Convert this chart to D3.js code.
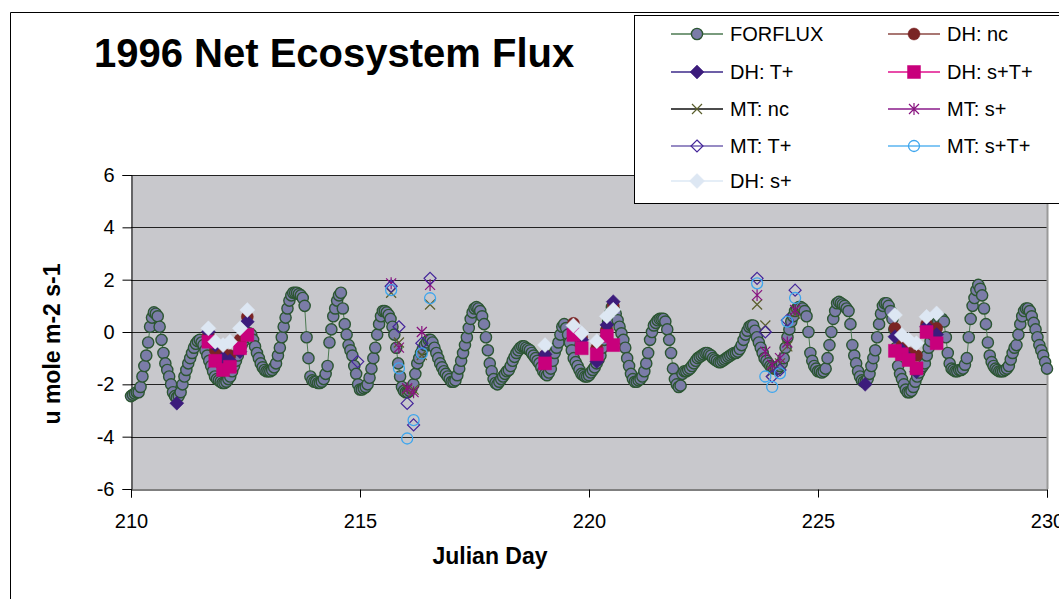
<!DOCTYPE html>
<html>
<head>
<meta charset="utf-8">
<script src="https://cdn.jsdelivr.net/npm/d3@7"></script>
<style>
body { margin: 0; background: #fff; }
svg { display: block; font-family: "Liberation Sans", Arial, sans-serif; }
</style>
</head>
<body>
<svg width="1059" height="599"></svg>
<script>
// FORFLUX, one row per Julian day, hourly readings
const fluxDays = [210, 211, 212, 213, 214, 215, 216, 217, 218, 219,
                  220, 221, 222, 223, 224, 225, 226, 227, 228, 229];
const hours = [0, 1, 2, 3, 4, 5, 6, 7, 8, 9, 10, 11, 12, 13, 14, 15, 16, 17, 18, 19, 20, 21, 22, 23];
const fluxRows = [
  [-2.45, -2.4, -2.35, -2.3, -2.3, -2.1, -1.7, -1.3, -0.9, -0.4, 0.2, 0.55, 0.75, 0.7, 0.6, 0.2, -0.3, -0.8, -1.2, -1.45, -1.7, -2.0, -2.3, -2.45],
  [-2.5, -2.45, -2.3, -2.0, -1.7, -1.45, -1.2, -1.0, -0.8, -0.6, -0.45, -0.35, -0.3, -0.4, -0.5, -0.7, -0.9, -1.1, -1.3, -1.5, -1.7, -1.8, -1.85, -1.9],
  [-1.95, -1.95, -1.9, -1.8, -1.7, -1.5, -1.3, -1.1, -0.9, -0.7, -0.5, -0.35, -0.2, -0.1, -0.05, -0.1, -0.3, -0.55, -0.8, -1.0, -1.2, -1.35, -1.45, -1.5],
  [-1.5, -1.5, -1.45, -1.35, -1.2, -0.9, -0.6, -0.2, 0.2, 0.55, 0.9, 1.2, 1.4, 1.5, 1.5, 1.5, 1.45, 1.4, 1.3, 1.0, -0.2, -1.0, -1.7, -1.85],
  [-1.9, -1.9, -1.95, -1.95, -1.9, -1.8, -1.6, -1.3, -0.4, 0.1, 0.6, 0.9, 1.2, 1.4, 1.5, 0.9, 0.3, -0.1, -0.5, -0.7, -0.9, -1.3, -1.6, -2.0],
  [-2.2, -2.2, -2.15, -2.1, -2.0, -1.75, -1.4, -1.0, -0.6, -0.1, 0.3, 0.6, 0.8, 0.8, 0.75, 0.65, 0.5, 0.2, -0.1, -0.6, -1.2, -1.7, -2.1, -2.25],
  [-2.3, -2.3, -2.25, -2.15, -2.0, -1.6, -1.2, -1.0, -0.8, -0.65, -0.5, -0.4, -0.3, -0.3, -0.4, -0.6, -0.8, -1.0, -1.2, -1.35, -1.5, -1.6, -1.7, -1.8],
  [-1.9, -1.9, -1.85, -1.65, -1.4, -1.1, -0.8, -0.5, -0.2, 0.15, 0.5, 0.75, 0.9, 0.95, 0.9, 0.8, 0.6, 0.3, -0.2, -0.7, -1.2, -1.5, -1.8, -1.95],
  [-2.0, -1.9, -1.8, -1.7, -1.6, -1.5, -1.45, -1.3, -1.1, -0.95, -0.8, -0.7, -0.6, -0.55, -0.55, -0.6, -0.65, -0.7, -0.8, -0.9, -1.0, -1.1, -1.2, -1.35],
  [-1.5, -1.6, -1.65, -1.55, -1.4, -1.1, -0.8, -0.6, -0.4, -0.1, 0.2, 0.3, 0.15, -0.1, -0.4, -0.7, -1.0, -1.15, -1.3, -1.45, -1.6, -1.65, -1.7, -1.7],
  [-1.65, -1.55, -1.45, -1.35, -1.2, -1.05, -0.9, -0.6, -0.3, 0.05, 0.4, 0.7, 0.95, 0.85, 0.7, 0.45, 0.2, -0.05, -0.3, -0.6, -1.0, -1.3, -1.6, -1.8],
  [-1.9, -1.9, -1.85, -1.8, -1.7, -1.5, -1.2, -0.8, -0.3, 0.0, 0.25, 0.35, 0.45, 0.5, 0.5, 0.5, 0.4, 0.1, -0.3, -0.8, -1.4, -1.8, -2.0, -2.1],
  [-2.05, -1.6, -1.5, -1.5, -1.45, -1.4, -1.3, -1.2, -1.1, -1.0, -0.95, -0.9, -0.85, -0.8, -0.8, -0.85, -0.9, -1.0, -1.05, -1.1, -1.15, -1.15, -1.1, -1.05],
  [-1.0, -0.95, -0.9, -0.85, -0.8, -0.8, -0.75, -0.65, -0.5, -0.3, -0.1, 0.05, 0.2, 0.25, 0.25, 0.05, -0.2, -0.4, -0.6, -0.8, -1.0, -1.1, -1.2, -1.3],
  [-1.35, -1.4, -1.4, -1.4, -1.3, -1.2, -1.0, -0.6, -0.2, 0.1, 0.4, 0.6, 0.8, 0.9, 0.95, 0.95, 0.9, 0.8, 0.6, 0.0, -0.8, -1.1, -1.3, -1.4],
  [-1.5, -1.5, -1.55, -1.5, -1.4, -1.0, -0.5, 0.0, 0.5, 0.8, 1.1, 1.15, 1.1, 1.05, 1.0, 0.9, 0.8, 0.3, -0.5, -0.9, -1.2, -1.5, -1.7, -1.85],
  [-1.9, -1.9, -1.8, -1.6, -1.3, -1.0, -0.7, -0.2, 0.3, 0.7, 1.0, 1.1, 1.1, 1.0, 0.8, 0.5, 0.1, -0.6, -1.3, -1.6, -1.8, -2.0, -2.2, -2.3],
  [-2.3, -2.25, -2.1, -1.9, -1.7, -1.55, -1.4, -1.3, -1.2, -0.9, -0.6, -0.35, -0.1, 0.1, 0.3, 0.4, 0.5, 0.5, 0.4, -0.2, -0.8, -1.2, -1.4, -1.45],
  [-1.5, -1.5, -1.45, -1.45, -1.4, -1.25, -1.0, -0.2, 0.5, 1.0, 1.3, 1.6, 1.8, 1.65, 1.4, 0.9, 0.3, -0.4, -0.9, -1.15, -1.3, -1.4, -1.45, -1.5],
  [-1.5, -1.5, -1.45, -1.4, -1.3, -1.05, -0.8, -0.6, -0.5, -0.1, 0.3, 0.6, 0.8, 0.9, 0.9, 0.8, 0.6, 0.35, 0.1, -0.2, -0.5, -0.7, -0.9, -1.15]
];
const fluxLast = [230, -1.4];

// DH model runs
const dhDays = [211.0, 211.69, 211.84, 212.01, 212.16, 212.38, 212.54,
                219.04, 219.66, 219.84, 220.17, 220.39, 220.53,
                226.03, 226.68, 226.83, 226.98, 227.15, 227.37, 227.59];
const dhNc    = [null, -0.1, -0.7, -0.82, -0.9, -0.3, 0.58, -0.9, 0.33, -0.2, -0.6, 0.1, 1.0, null, 0.14, -0.5, -0.8, -0.9, 0.3, 0.14];
const dhT     = [-2.72, 0.01, -0.5, -1.0, -1.1, -0.75, 0.39, -0.85, 0.1, -0.3, -1.13, 0.27, 1.16, -2.0, -0.18, -0.7, -1.0, -1.52, 0.2, -0.1];
const dhST    = [null, -0.37, -1.1, -1.45, -1.33, -0.62, -0.11, -1.2, -0.11, -0.62, -0.85, -0.15, -0.5, null, -0.72, -0.85, -1.07, -1.39, 0.0, -0.43];
const dhS     = [null, 0.14, -0.37, -0.5, -0.37, 0.14, 0.84, -0.5, 0.25, -0.05, -0.35, 0.6, 0.85, null, 0.65, -0.11, -0.3, -0.43, 0.58, 0.71];

// MT model runs
const mtDays = [214.95, 215.68, 215.85, 216.03, 216.17, 216.35, 216.53,
                223.67, 223.85, 224.0, 224.17, 224.33, 224.5];
const mtNc   = [null, 1.5, -0.4, -2.2, -2.2, -0.88, 1.05, 1.05, 0.25, -1.5, -1.2, -0.55, 0.7];
const mtS    = [null, 1.86, -0.6, -2.15, -2.3, 0.0, 1.8, 1.41, -0.75, -1.25, -1.0, -0.4, 0.84];
const mtT    = [-1.13, 1.75, 0.2, -2.73, -3.55, -0.43, 2.05, 2.05, 0.0, -1.7, -1.45, 0.45, 1.6];
const mtST   = [null, 1.6, -1.39, -4.07, -3.37, -0.82, 1.29, 1.86, -1.7, -2.1, -1.58, 0.4, 1.3];

const xTicks = [210, 215, 220, 225, 230];
const yTicks = [-6, -4, -2, 0, 2, 4, 6];

let svg = d3.select('svg');
let x = d3.scaleLinear().domain([210, 230]).range([131, 1047]);
let y = d3.scaleLinear().domain([-6, 6]).range([489, 175]);

// marker shapes
function shapePath(type, s) {
  if (type === 'circle') return d3.symbol().type(d3.symbolCircle).size(Math.PI * s * s)();
  if (type === 'diamond') return `M0,${-s}L${s},0L0,${s}L${-s},0Z`;
  if (type === 'square') return `M${-s},${-s}H${s}V${s}H${-s}Z`;
  if (type === 'x') return `M${-s},${-s}L${s},${s}M${-s},${s}L${s},${-s}`;
  if (type === 'star') return `M${-s},${-s}L${s},${s}M${-s},${s}L${s},${-s}M0,${-s * 1.2}L0,${s * 1.2}`;
}

let series = [
  {name: 'FORFLUX', shape: 'circle', size: 5.6, fill: '#7b7ca8', stroke: '#2c5632', sw: 1.4, line: '#4c7a52'},
  {name: 'DH: nc', shape: 'circle', size: 6, fill: '#7a2424', stroke: '#7a2424', sw: 0.5, line: '#8c4a44', days: dhDays, vals: dhNc},
  {name: 'DH: T+', shape: 'diamond', size: 7, fill: '#3c1c7c', stroke: '#3c1c7c', sw: 0.5, line: '#3c2a8a', days: dhDays, vals: dhT},
  {name: 'DH: s+T+', shape: 'square', size: 6.5, fill: '#c8007c', stroke: '#c8007c', sw: 0.5, line: '#e0108c', days: dhDays, vals: dhST},
  {name: 'MT: nc', shape: 'x', size: 5, fill: 'none', stroke: '#5a5e2c', sw: 1.2, line: '#111', days: mtDays, vals: mtNc},
  {name: 'MT: s+', shape: 'star', size: 5, fill: 'none', stroke: '#88137f', sw: 1.2, line: '#8a1a8a', days: mtDays, vals: mtS},
  {name: 'MT: T+', shape: 'diamond', size: 6, fill: 'none', stroke: '#44259a', sw: 1.2, line: '#7464b0', days: mtDays, vals: mtT},
  {name: 'MT: s+T+', shape: 'circle', size: 5.5, fill: 'none', stroke: '#3ea6ee', sw: 1.3, line: '#5ab4f0', days: mtDays, vals: mtST},
  {name: 'DH: s+', shape: 'diamond', size: 7.5, fill: '#dde7f3', stroke: '#dde7f3', sw: 0.5, line: '#dde8f5', days: dhDays, vals: dhS}
];

// outer chart frame
svg.append('path').attr('d', 'M10.5,599V12.5H1059').attr('fill', 'none').attr('stroke', '#000');

// plot area
svg.append('rect')
  .attr('x', x(210)).attr('y', y(6))
  .attr('width', x(230) - x(210)).attr('height', y(-6) - y(6))
  .attr('fill', '#c8c8cc');

svg.append('g').selectAll('line')
  .data(yTicks.filter(d => d > -6))
  .enter().append('line')
  .attr('x1', x(210)).attr('x2', x(230))
  .attr('y1', d => Math.round(y(d)) + 0.5).attr('y2', d => Math.round(y(d)) + 0.5)
  .attr('stroke', '#222');

svg.append('line')
  .attr('x1', x(230) + 0.5).attr('x2', x(230) + 0.5)
  .attr('y1', y(6)).attr('y2', y(-6))
  .attr('stroke', '#9a9a9a').attr('stroke-width', 2);

// axes
let yAxis = d3.axisLeft(y).tickValues(yTicks).tickSize(9).tickPadding(8).tickFormat(d3.format('d'));
let gy = svg.append('g').attr('transform', `translate(${x(210) + 0.5},0)`).call(yAxis);
let xAxis = d3.axisBottom(x).tickValues(xTicks).tickSize(8).tickPadding(16).tickFormat(d3.format('d'));
let gx = svg.append('g').attr('transform', `translate(0,${Math.round(y(-6)) + 0.5})`).call(xAxis);
[gx, gy].forEach(g => {
  g.select('.domain').attr('stroke', '#000');
  g.selectAll('.tick line').attr('stroke', '#000');
  g.selectAll('.tick text')
    .attr('fill', '#000')
    .style('font-size', '20px')
    .style('font-family', '"Liberation Sans", Arial, sans-serif');
});
gy.selectAll('.tick text').text(d => d < 0 ? '-' + Math.abs(d) : d);

// FORFLUX data
let flux = [];
fluxRows.forEach((row, i) => {
  row.forEach((v, j) => flux.push({t: fluxDays[i] + hours[j] / 24, v: v}));
});
flux.push({t: fluxLast[0], v: fluxLast[1]});

let plot = svg.append('g');
let ff = series[0];
plot.append('path')
  .datum(flux)
  .attr('d', d3.line().x(d => x(d.t)).y(d => y(d.v)))
  .attr('fill', 'none')
  .attr('stroke', ff.line)
  .attr('stroke-width', 1);

function drawMarkers(g, s, pts) {
  g.selectAll(null)
    .data(pts)
    .enter().append('path')
    .attr('transform', d => `translate(${x(d.t)},${y(d.v)})`)
    .attr('d', shapePath(s.shape, s.size))
    .attr('fill', s.fill)
    .attr('stroke', s.stroke)
    .attr('stroke-width', s.sw);
}

drawMarkers(plot.append('g'), ff, flux);

series.slice(1).forEach(s => {
  let pts = s.days.map((t, i) => ({t: t, v: s.vals[i]})).filter(d => d.v !== null);
  drawMarkers(plot.append('g'), s, pts);
});

// titles
svg.append('text')
  .attr('x', 94).attr('y', 67)
  .style('font-size', '40px').style('font-weight', 'bold')
  .text('1996 Net Ecosystem Flux');

svg.append('text')
  .attr('transform', 'translate(60,344) rotate(-90)')
  .attr('text-anchor', 'middle')
  .style('font-size', '23px').style('font-weight', 'bold')
  .text('u mole m-2 s-1');

svg.append('text')
  .attr('x', 490).attr('y', 564)
  .attr('text-anchor', 'middle')
  .style('font-size', '23px').style('font-weight', 'bold')
  .text('Julian Day');

// legend
let legend = svg.append('g');
legend.append('rect')
  .attr('x', 634.5).attr('y', 15.5)
  .attr('width', 440).attr('height', 188)
  .attr('fill', '#fff').attr('stroke', '#000');

let legCols = [697, 914];
let legRows = [34, 72, 109, 146, 181];
let item = legend.selectAll('.item')
  .data(series)
  .enter().append('g')
  .attr('transform', (d, i) => `translate(${legCols[i % 2]},${legRows[Math.floor(i / 2)]})`);
item.append('line')
  .attr('x1', -26).attr('x2', 26)
  .attr('stroke', d => d.line).attr('stroke-width', 1.5);
item.append('path')
  .attr('d', d => shapePath(d.shape, d.size))
  .attr('fill', d => d.fill)
  .attr('stroke', d => d.stroke)
  .attr('stroke-width', d => d.sw);
item.append('text')
  .attr('x', 33).attr('y', 7)
  .style('font-size', '20px')
  .text(d => d.name);
</script>
</body>
</html>
